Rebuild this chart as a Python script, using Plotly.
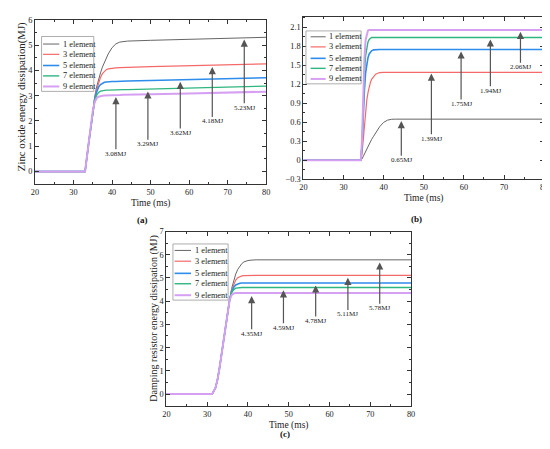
import plotly.graph_objects as go

W, H = 550, 449

series_names = ["1 element", "3 element", "5 element", "7 element", "9 element"]
series_colors = ["#666666", "#F46A6A", "#2E8CEB", "#2DB67F", "#D6A0F2"]
series_widths = [1.0, 1.2, 1.6, 1.4, 2.0]

# ---- (a) Zinc oxide energy dissipation ----
time_a = [20, 33, 34, 35, 35.5, 36, 36.5, 37, 37.5, 38, 38.5, 39, 40, 41, 42, 43, 44, 50, 60, 70, 80]
a_1 = [0, 0, 1.2, 2.4, 2.95, 3.35, 3.65, 3.9, 4.13, 4.33, 4.5, 4.65, 4.9, 5.05, 5.12, 5.15, 5.16, 5.19, 5.23, 5.27, 5.31]
a_3 = [0, 0, 1.2, 2.4, 2.9, 3.25, 3.52, 3.72, 3.87, 3.97, 4.03, 4.06, 4.09, 4.1, 4.11, 4.11, 4.12, 4.15, 4.19, 4.22, 4.26]
a_5 = [0, 0, 1.2, 2.4, 2.85, 3.15, 3.34, 3.44, 3.5, 3.53, 3.54, 3.55, 3.56, 3.56, 3.57, 3.57, 3.58, 3.6, 3.63, 3.67, 3.71]
a_7 = [0, 0, 1.2, 2.4, 2.8, 3.02, 3.13, 3.18, 3.2, 3.21, 3.22, 3.22, 3.23, 3.23, 3.24, 3.24, 3.24, 3.26, 3.3, 3.34, 3.38]
a_9 = [0, 0, 1.2, 2.4, 2.75, 2.9, 2.96, 2.99, 3.0, 3.01, 3.01, 3.02, 3.02, 3.03, 3.03, 3.04, 3.04, 3.06, 3.09, 3.13, 3.16]
a_labels = ["3.08MJ", "3.29MJ", "3.62MJ", "4.18MJ", "5.23MJ"]
a_arrow_x = [41.0, 49.3, 57.7, 66.0, 74.3]
a_arrow_head = [2.95, 3.17, 3.55, 4.13, 5.22]
a_label_y = [0.7, 1.08, 1.52, 1.98, 2.52]

# ---- (b) ----
time_b = [20, 34.3, 34.6, 34.9, 35.2, 35.5, 35.8, 36.1, 36.4, 36.7, 37, 37.5, 38, 38.5, 39, 40, 41, 42, 43, 80]
b_1 = [0, 0, 0.02, 0.06, 0.1, 0.15, 0.19, 0.23, 0.27, 0.3, 0.33, 0.38, 0.43, 0.48, 0.53, 0.6, 0.635, 0.648, 0.65, 0.65]
b_3 = [0, 0, 0.1, 0.35, 0.6, 0.8, 0.95, 1.07, 1.16, 1.23, 1.28, 1.33, 1.36, 1.375, 1.385, 1.39, 1.39, 1.39, 1.39, 1.39]
b_5 = [0, 0, 0.2, 0.7, 1.1, 1.38, 1.53, 1.62, 1.68, 1.71, 1.73, 1.745, 1.75, 1.75, 1.75, 1.75, 1.75, 1.75, 1.75, 1.75]
b_7 = [0, 0, 0.25, 0.85, 1.35, 1.65, 1.8, 1.87, 1.91, 1.93, 1.94, 1.94, 1.94, 1.94, 1.94, 1.94, 1.94, 1.94, 1.94, 1.94]
b_9 = [0, 0, 0.3, 1.0, 1.6, 1.9, 2.01, 2.05, 2.06, 2.06, 2.06, 2.06, 2.06, 2.06, 2.06, 2.06, 2.06, 2.06, 2.06, 2.06]
b_labels = ["0.65MJ", "1.39MJ", "1.75MJ", "1.94MJ", "2.06MJ"]
b_arrow_x = [44.4, 51.9, 59.3, 66.6, 74.1]
b_arrow_head = [0.62, 1.37, 1.72, 1.91, 2.03]
b_label_y = [0.0, 0.34, 0.89, 1.10, 1.47]

# ---- (c) Damping resistor energy dissipation ----
time_c = [20, 31.2, 32, 32.5, 33, 33.5, 34, 34.5, 35, 35.5, 36, 36.5, 37, 37.5, 38, 38.5, 39, 40, 41, 42, 80]
c_1 = [0, 0, 0.25, 0.6, 1.1, 1.7, 2.3, 3.0, 3.6, 4.05, 4.55, 4.9, 5.17, 5.37, 5.52, 5.62, 5.69, 5.75, 5.77, 5.78, 5.78]
c_3 = [0, 0, 0.25, 0.6, 1.1, 1.7, 2.3, 3.0, 3.6, 4.05, 4.5, 4.75, 4.91, 5.01, 5.06, 5.09, 5.1, 5.11, 5.11, 5.11, 5.11]
c_5 = [0, 0, 0.25, 0.6, 1.1, 1.7, 2.3, 3.0, 3.6, 4.05, 4.42, 4.6, 4.7, 4.75, 4.77, 4.78, 4.78, 4.78, 4.78, 4.78, 4.78]
c_7 = [0, 0, 0.25, 0.6, 1.1, 1.7, 2.3, 3.0, 3.6, 4.05, 4.37, 4.5, 4.56, 4.58, 4.59, 4.59, 4.59, 4.59, 4.59, 4.59, 4.59]
c_9 = [0, 0, 0.25, 0.6, 1.1, 1.7, 2.3, 3.0, 3.6, 4.05, 4.27, 4.33, 4.35, 4.35, 4.35, 4.35, 4.35, 4.35, 4.35, 4.35, 4.35]
c_labels = ["4.35MJ", "4.59MJ", "4.78MJ", "5.11MJ", "5.78MJ"]
c_arrow_x = [40.9, 48.7, 56.6, 64.5, 72.3]
c_arrow_head = [4.22, 4.47, 4.68, 5.01, 5.67]
c_label_y = [2.6, 2.86, 3.15, 3.43, 3.69]

FONT = "Liberation Serif, Times New Roman, serif"


def px(x):
    return x / W


def py(y):
    return 1 - y / H


fig = go.Figure()

panels = [
    ("", time_a, [a_1, a_3, a_5, a_7, a_9], (23.3, 8.0, 258.0, 175.7), [-0.5, 6], 1, 0.5),
    ("2", time_b, [b_1, b_3, b_5, b_7, b_9], (295.7, 4.7, 540.0, 170.7), [-0.3, 2.27], 0.3, 0.15),
    ("3", time_c, [c_1, c_3, c_5, c_7, c_9], (156.7, 224.0, 405.0, 401.7), [-0.5, 7], 1, 0.5),
]

annotations = []
shapes = []

for suffix, t, ys, box, yr, ydt, ymn in panels:
    xa = "x" + suffix
    ya = "y" + suffix
    for name, col, wd, yv in zip(series_names, series_colors, series_widths, ys):
        fig.add_trace(go.Scatter(x=t, y=yv, mode="lines", name=name, xaxis=xa, yaxis=ya,
                                 line=dict(color=col, width=wd), showlegend=False))
    l, tp, r, b = box
    axis_common = dict(showline=True, linecolor="#333333", linewidth=1, mirror="allticks",
                       ticks="inside", ticklen=4, tickwidth=1, tickcolor="#333333",
                       showgrid=False, zeroline=False,
                       tickfont=dict(family=FONT, size=8.3, color="#222222"))
    fig.update_layout(**{
        "xaxis" + suffix: dict(domain=[px(l), px(r)], anchor=ya, range=[20, 80], dtick=10, tick0=20,
                               minor=dict(dtick=5, ticklen=2, ticks="inside", tickcolor="#333333"),
                               **axis_common),
        "yaxis" + suffix: dict(domain=[py(b), py(tp)], anchor=xa, range=yr, dtick=ydt, tick0=0,
                               minor=dict(dtick=ymn, ticklen=2, ticks="inside", tickcolor="#333333"),
                               **axis_common),
    })

for suffix, xs, heads, labs, texts in [
    ("", a_arrow_x, a_arrow_head, a_label_y, a_labels),
    ("2", b_arrow_x, b_arrow_head, b_label_y, b_labels),
    ("3", c_arrow_x, c_arrow_head, c_label_y, c_labels),
]:
    for xv, hv, lv, tx in zip(xs, heads, labs, texts):
        annotations.append(dict(
            x=xv, y=hv, ax=xv, ay=lv, xref="x" + suffix, yref="y" + suffix,
            axref="x" + suffix, ayref="y" + suffix, text=tx, showarrow=True,
            arrowhead=2, arrowsize=1.2, arrowwidth=1.2, arrowcolor="#555555",
            font=dict(family=FONT, size=7, color="#222222"), borderpad=0))

legend_specs = [
    ((30.0, 25.0, 83.0, 81.0), 31.5, 48.0, 49.5, [32.7, 43.2, 54.6, 65.2, 76.0]),
    ((298.3, 19.3, 354.3, 73.3), 303.0, 318.3, 320.0, [25.3, 35.6, 47.3, 57.5, 68.3]),
    ((163.3, 236.7, 219.3, 294.0), 165.0, 181.7, 183.3, [243.3, 254.3, 266.7, 277.3, 289.0]),
]
for (bl, bt, br, bb), s0, s1, tx0, rows in legend_specs:
    shapes.append(dict(type="rect", xref="paper", yref="paper", x0=px(bl), x1=px(br), y0=py(bb), y1=py(bt),
                       line=dict(color="#999999", width=0.8), fillcolor="white", layer="above"))
    for name, col, wd, ry in zip(series_names, series_colors, series_widths, rows):
        shapes.append(dict(type="line", xref="paper", yref="paper", x0=px(s0), x1=px(s1), y0=py(ry), y1=py(ry),
                           line=dict(color=col, width=wd), layer="above"))
        annotations.append(dict(x=px(tx0), y=py(ry), xref="paper", yref="paper", text=name, showarrow=False,
                                xanchor="left", yanchor="middle",
                                font=dict(family=FONT, size=8.3, color="#222222")))

title_font = dict(family=FONT, size=9.5, color="#222222")
annotations += [
    dict(x=px(141), y=py(195), text="Time (ms)", showarrow=False, xref="paper", yref="paper",
         xanchor="center", yanchor="middle", font=title_font),
    dict(x=px(418), y=py(190), text="Time (ms)", showarrow=False, xref="paper", yref="paper",
         xanchor="center", yanchor="middle", font=title_font),
    dict(x=px(281), y=py(421.5), text="Time (ms)", showarrow=False, xref="paper", yref="paper",
         xanchor="center", yanchor="middle", font=title_font),
    dict(x=px(9), y=py(86), text="Zinc oxide energy dissipation(MJ)", showarrow=False, textangle=-90,
         xref="paper", yref="paper", xanchor="center", yanchor="middle",
         font=dict(family=FONT, size=10.8, color="#222222")),
    dict(x=px(144), y=py(313), text="Damping resistor energy dissipation (MJ)", showarrow=False, textangle=-90,
         xref="paper", yref="paper", xanchor="center", yanchor="middle",
         font=dict(family=FONT, size=10, color="#222222")),
    dict(x=px(132), y=py(212), text="<b>(a)</b>", showarrow=False, xref="paper", yref="paper",
         xanchor="center", yanchor="middle", font=dict(family=FONT, size=9, color="#111111")),
    dict(x=px(410), y=py(211.5), text="<b>(b)</b>", showarrow=False, xref="paper", yref="paper",
         xanchor="center", yanchor="middle", font=dict(family=FONT, size=9, color="#111111")),
    dict(x=px(277), y=py(431), text="<b>(c)</b>", showarrow=False, xref="paper", yref="paper",
         xanchor="center", yanchor="middle", font=dict(family=FONT, size=9, color="#111111")),
]

fig.update_layout(width=W, height=H, autosize=False, margin=dict(l=0, r=0, t=0, b=0),
                  paper_bgcolor="white", plot_bgcolor="white", showlegend=False,
                  annotations=annotations, shapes=shapes, font=dict(family=FONT))

fig.write_html("out.html")
